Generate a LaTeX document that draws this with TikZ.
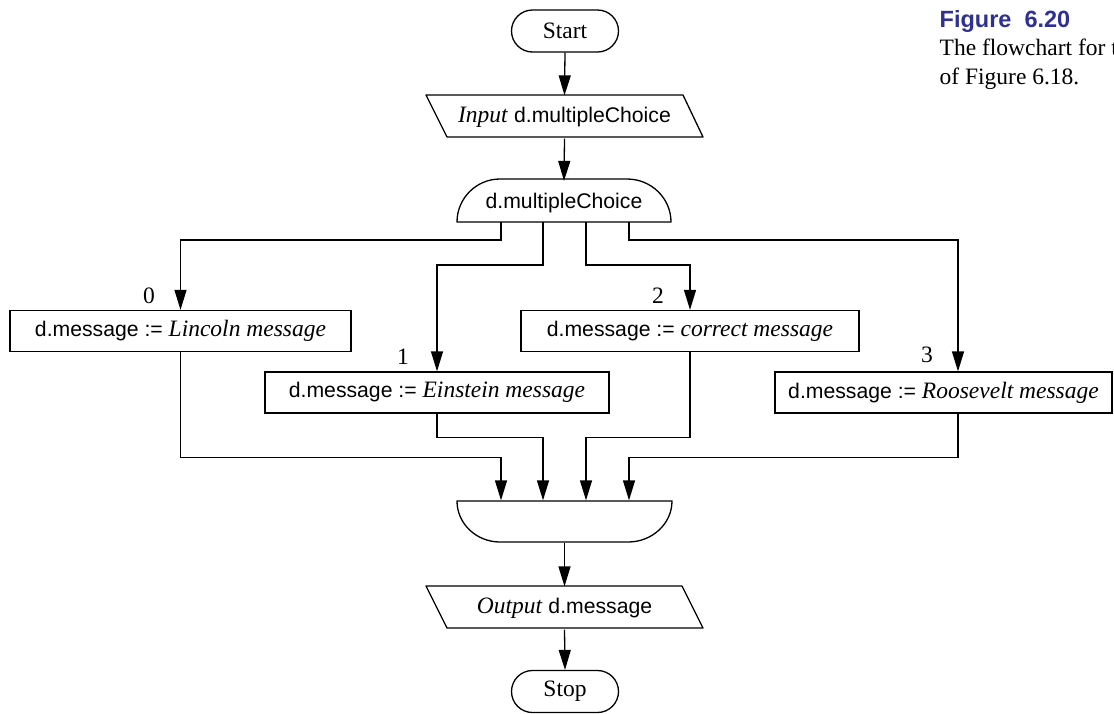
\documentclass[tikz,border=0pt]{standalone}
\usepackage{fontspec}
\setmainfont{Liberation Serif}
\setsansfont{Liberation Sans}
\usetikzlibrary{arrows.meta,calc}
\definecolor{capblue}{RGB}{46,49,146}
\newcommand\sfp[1]{{\sffamily\fontsize{21.2pt}{25pt}\selectfont #1}}
\begin{document}
\begin{tikzpicture}[x=1pt,y=-1pt,line width=1.3pt,
  every node/.style={font=\fontsize{23.5pt}{28pt}\selectfont},
  arr/.style={-{Triangle[length=20pt,width=12pt]}},
  term/.style={draw,rounded corners=21pt,minimum width=107pt,minimum height=42pt,inner sep=0pt},
  proc/.style={draw,minimum height=41pt,inner sep=0pt},
  ghost/.style={minimum height=42pt,inner sep=0pt},
  shp/.style={draw,line join=round}]
\useasboundingbox (0,0) rectangle (1114,713);

% terminals
\node[term] (start) at (565,31) {Start};
\node[term] (stop) at (565,691.5) {Stop};

% input parallelogram
\draw[shp] (426,95) -- (683,95) -- (703,137) -- (447,137) -- cycle;
\node[ghost] (in) at (564.5,117) {\textit{Input} \sfp{d.multipleChoice}};

% decision shape
\draw[shp] (457,222) .. controls (457,198.3) and (476.3,179) .. (500,179) -- (627,179)
  .. controls (651.3,179) and (671,198.3) .. (671,222) -- cycle;
\node[minimum width=214pt,minimum height=43pt,inner sep=0pt] (decl) at (564,203) {\sfp{d.multipleChoice}};
\coordinate (dec) at (564,222);

% process boxes
\node[proc,minimum width=341pt] (box0) at (180.5,331) {\sfp{d.message :=} \textit{Lincoln message}};
\node[proc,minimum width=344pt] (box1) at (437,392.5) {\sfp{d.message :=} \textit{Einstein message}};
\node[proc,minimum width=338pt] (box2) at (690,331) {\sfp{d.message :=} \textit{correct message}};
\node[proc,minimum width=337pt] (box3) at (943.5,392.5) {\sfp{d.message :=} \textit{Roosevelt message}};

% case labels
\node (l0) at (149,296) {0};
\node (l1) at (403,357) {1};
\node (l2) at (658,296) {2};
\node (l3) at (927,355) {3};

% merge shape
\draw[shp] (457,501) -- (672,501) .. controls (672,523.6) and (652.3,542) .. (628,542)
  -- (500,542) .. controls (476.3,542) and (457,523.6) .. (457,501) -- cycle;
\node[minimum width=215pt,minimum height=41pt,inner sep=0pt] (mrg) at (564.5,521.5) {};

% output parallelogram
\draw[shp] (426,586) -- (682,586) -- (703,628) -- (447,628) -- cycle;
\node[ghost] (out) at (564.5,608) {\textit{Output} \sfp{d.message}};

% connectors
\draw[arr] (start.south) -- (in.north);
\draw[arr] (in.south) -- (decl.north);
\draw[arr] ($(dec)+(-63,0)$) -- ++(0,18) -| (box0.north);
\draw[arr] ($(dec)+(-21,0)$) -- ++(0,43) -| (box1.north);
\draw[arr] ($(dec)+(22,0)$) -- ++(0,43) -| (box2.north);
\draw[arr] ($(dec)+(65,0)$) -- ++(0,18) -| ($(box3.north)+(14.5,0)$);

\draw[arr] (box0.south) |- ($(mrg.north)+(-63.5,-43)$) -- ($(mrg.north)+(-63.5,0)$);
\draw[arr] (box1.south) |- ($(mrg.north)+(-21.5,-63)$) -- ($(mrg.north)+(-21.5,0)$);
\draw[arr] (box2.south) |- ($(mrg.north)+(21.5,-63)$) -- ($(mrg.north)+(21.5,0)$);
\draw[arr] ($(box3.south)+(14.5,0)$) |- ($(mrg.north)+(64.5,-43)$) -- ($(mrg.north)+(64.5,0)$);

\draw[arr] (mrg.south) -- (out.north);
\draw[arr] (out.south) -- (stop.north);

% caption
\node[anchor=base west,inner sep=0pt,text=capblue,font=\sffamily\bfseries\fontsize{23.5pt}{28pt}\selectfont] (cap1) at (939,27) {Figure\ \ 6.20};
\node[anchor=base west,inner sep=0pt] (cap2) at (939,55) {The flowchart for t};
\node[anchor=base west,inner sep=0pt] (cap3) at (939,84) {of Figure 6.18.};
\end{tikzpicture}
\end{document}
